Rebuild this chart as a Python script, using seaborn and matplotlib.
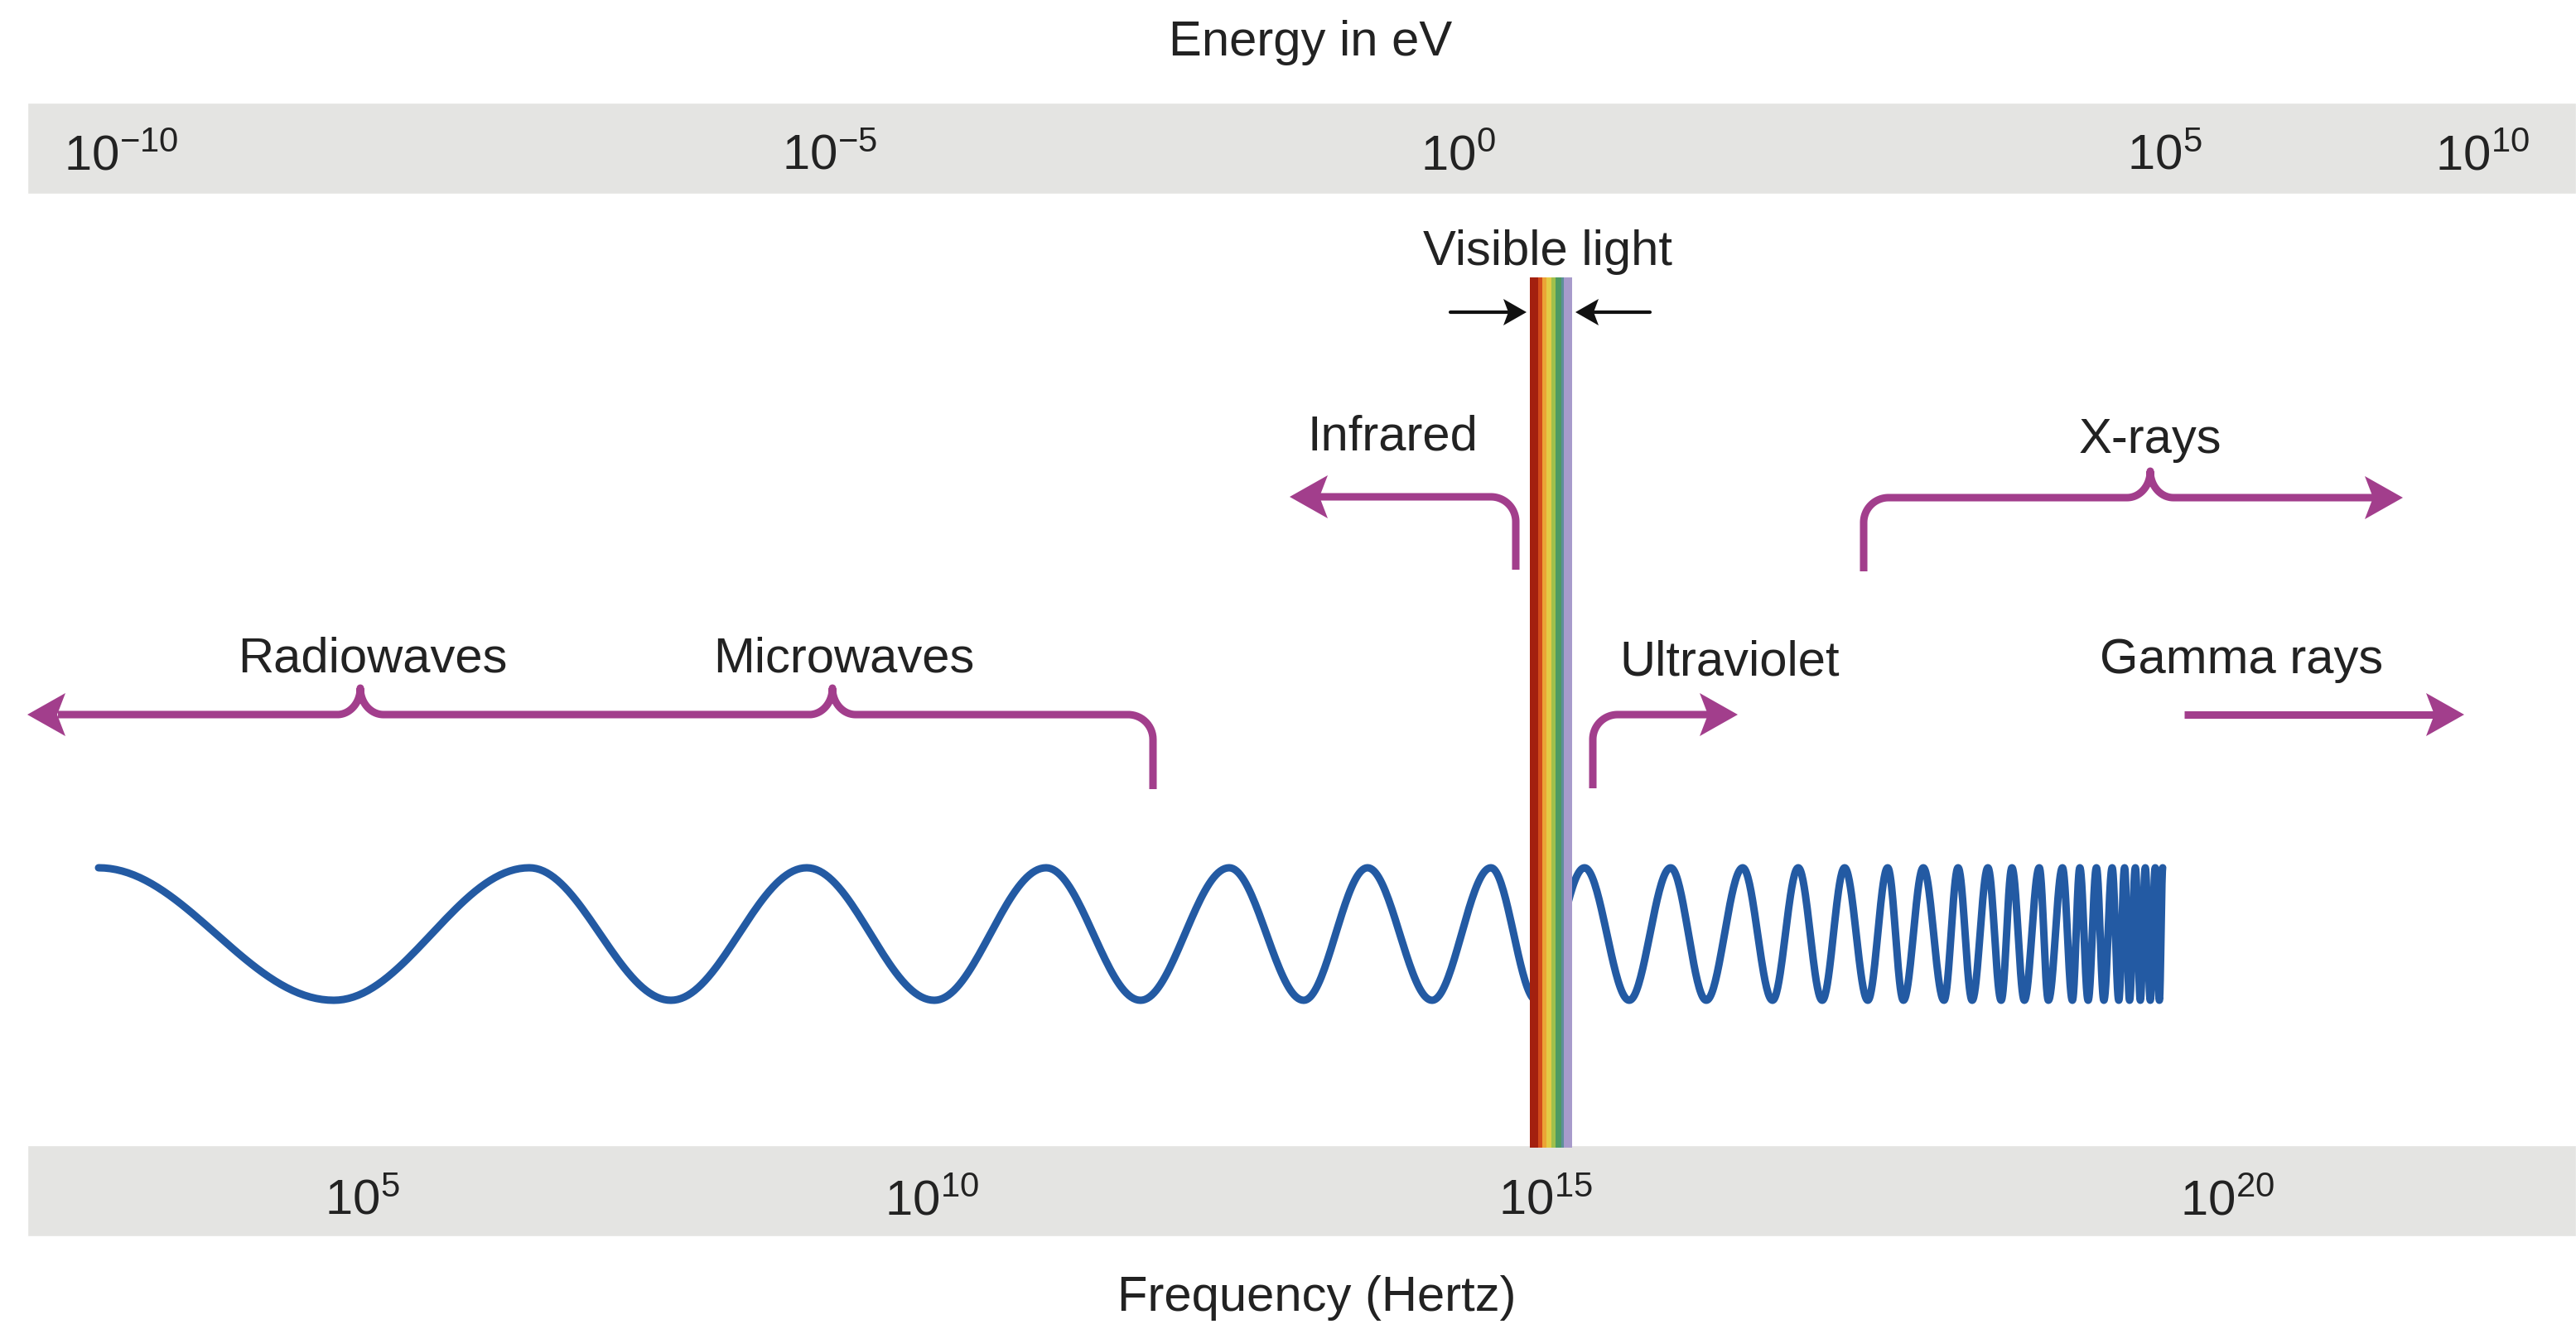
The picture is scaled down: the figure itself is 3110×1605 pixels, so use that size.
import numpy as np
import pandas as pd
import matplotlib
matplotlib.use("Agg")
import matplotlib.pyplot as plt
import seaborn as sns

# ---- values (diagram units = pixels of the 3110x1605 picture) ----
energy_ticks = ["10^{-10}", "10^{-5}", "10^{0}", "10^{5}", "10^{10}"]
energy_tick_x = [77, 944, 1715, 2568, 2940]
freq_ticks = ["10^{5}", "10^{10}", "10^{15}", "10^{20}"]
freq_tick_x = [392, 1068, 1809, 2632]

region_names = ["Visible light", "Infrared", "Radiowaves", "Microwaves",
                "Ultraviolet", "X-rays", "Gamma rays"]
region_x = [1869, 1681, 450, 1019, 2088, 2596, 2706]
region_y = [320, 543, 811, 811, 815, 547, 813]

# crest / trough positions of the wave, alternating, starting with a crest
wave_x = [119, 403, 639, 810, 974, 1128, 1263, 1377, 1484, 1574, 1651, 1729,
          1800, 1855, 1913, 1967, 2017, 2060, 2104, 2140, 2171, 2200, 2227,
          2255, 2279, 2298, 2322, 2347, 2364, 2381, 2400, 2416, 2429, 2444,
          2462, 2473, 2490, 2502, 2511, 2521, 2531, 2540, 2550, 2558, 2565,
          2571, 2578, 2584, 2590, 2596, 2602, 2607, 2611]

# visible band stripes, red -> violet
stripe_colors = ["#a3200f", "#d24a1b", "#eba436", "#e3cb45", "#9fc04c",
                 "#4e9a62", "#5d8f9a", "#a79bcb"]
stripe_widths = [10, 5, 5, 6, 5, 7, 3, 10]

PURPLE = "#a23e8c"
BLUE = "#235aa3"
GRAY = "#e4e4e2"
TEXT = "#222222"

sns.set_theme(style="white")
plt.rcParams["font.family"] = ["Liberation Sans", "DejaVu Sans"]
plt.rcParams["mathtext.fontset"] = "custom"
plt.rcParams["mathtext.rm"] = "Liberation Sans"

fig = plt.figure(figsize=(31.1, 16.05), dpi=100)
ax = fig.add_axes([0, 0, 1, 1])

# grey scale bands
ax.bar(33, 110, bottom=124, width=3110 - 33, align="edge", color=GRAY, zorder=1)
ax.bar(33, 110, bottom=1383, width=3110 - 33, align="edge", color=GRAY, zorder=1)

# wave: half-cosine between the read crests and troughs
top_y, bot_y = 1048, 1208
ext_y = [top_y if i % 2 == 0 else bot_y for i in range(len(wave_x))]
xs, ys = [], []
for i in range(len(wave_x) - 1):
    t = np.linspace(0, 1, 40, endpoint=False)
    xs.append(wave_x[i] + (wave_x[i + 1] - wave_x[i]) * t)
    ys.append(ext_y[i] + (ext_y[i + 1] - ext_y[i]) * (1 - np.cos(np.pi * t)) / 2)
xs.append([wave_x[-1]])
ys.append([ext_y[-1]])
wave = pd.DataFrame({"x": np.concatenate(xs), "y": np.concatenate(ys)})
sns.lineplot(data=wave, x="x", y="y", sort=False, estimator=None, color=BLUE,
             linewidth=6.5, ax=ax, zorder=2)

# visible light stripes
left = 1847
for c, w in zip(stripe_colors, stripe_widths):
    ax.bar(left, 1386 - 335, bottom=335, width=w, align="edge", color=c,
           linewidth=0, zorder=4)
    left += w


def arc(cx, cy, r, a0, a1, n=30):
    a = np.linspace(a0, a1, n)
    return cx + r * np.cos(a), cy + r * np.sin(a)


def brace(xc, y0, w=28, h=32, n=25):
    phi = np.linspace(np.pi / 2, 0, n)
    lx = xc - w + w * np.cos(phi)
    ly = y0 - h + h * np.sin(phi)
    phi = np.linspace(0, np.pi / 2, n)
    rx = xc + w - w * np.cos(phi)
    ry = y0 - h + h * np.sin(phi)
    return np.concatenate([lx, rx]), np.concatenate([ly, ry])


def head(ax, xt, y, direction, color, L=46, H=26, notch=10, z=5):
    d = 1 if direction == "right" else -1
    px = [xt, xt - d * L, xt - d * (L - notch), xt - d * L]
    py = [y, y - H, y, y + H]
    ax.fill(px, py, color=color, linewidth=0, zorder=z)


def draw(ax, parts, color=PURPLE, lw=6.5):
    x = np.concatenate([p[0] for p in parts])
    y = np.concatenate([p[1] for p in parts])
    ax.plot(x, y, color=color, linewidth=lw, solid_capstyle="butt",
            solid_joinstyle="round", zorder=5)


r = 30
# radiowaves + microwaves
y0 = 863
bx1, by1 = brace(435, y0)
bx2, by2 = brace(1005, y0)
cx, cy = arc(1392 - r, y0 + r, r, -np.pi / 2, 0)
draw(ax, [(np.array([70]), np.array([y0])), (bx1, by1), (bx2, by2),
          (cx, cy), (np.array([1392]), np.array([953]))])
head(ax, 33, y0, "left", PURPLE)

# infrared
y0 = 600
cx, cy = arc(1830 - r, y0 + r, r, -np.pi / 2, 0)
draw(ax, [(np.array([1590]), np.array([y0])), (cx, cy),
          (np.array([1830]), np.array([688]))])
head(ax, 1557, y0, "left", PURPLE)

# ultraviolet
y0 = 863
cx, cy = arc(1923 + r, y0 + r, r, np.pi, 1.5 * np.pi)
draw(ax, [(np.array([1923]), np.array([952])), (cx, cy),
          (np.array([2065]), np.array([y0]))])
head(ax, 2098, y0, "right", PURPLE)

# x-rays
y0 = 601
cx, cy = arc(2250 + r, y0 + r, r, np.pi, 1.5 * np.pi)
bx, by = brace(2596, y0)
draw(ax, [(np.array([2250]), np.array([690])), (cx, cy), (bx, by),
          (np.array([2868]), np.array([y0]))])
head(ax, 2901, y0, "right", PURPLE)

# gamma rays
draw(ax, [(np.array([2637, 2942]), np.array([863, 863]))])
head(ax, 2975, 863, "right", PURPLE)

# black arrows pointing at the visible band
ax.plot([1751, 1820], [377, 377], color="#111111", linewidth=3, zorder=5)
head(ax, 1843, 377, "right", "#111111", L=28, H=16, notch=6)
ax.plot([1992, 1925], [377, 377], color="#111111", linewidth=3, zorder=5)
head(ax, 1902, 377, "left", "#111111", L=28, H=16, notch=6)

# texts
FS = 43
ax.text(1582, 67, "Energy in eV", ha="center", va="baseline", fontsize=FS, color=TEXT)
ax.text(1590, 1583, "Frequency (Hertz)", ha="center", va="baseline", fontsize=FS, color=TEXT)
for name, x, y in zip(region_names, region_x, region_y):
    ax.text(x, y, name, ha="center", va="baseline", fontsize=FS, color=TEXT, zorder=6)
for lab, x in zip(energy_ticks, energy_tick_x):
    ax.text(x, 205, r"$\mathregular{" + lab + "}$", ha="left", va="baseline",
            fontsize=FS, color=TEXT, zorder=6)
for lab, x in zip(freq_ticks, freq_tick_x):
    ax.text(x, 1467, r"$\mathregular{" + lab + "}$", ha="left", va="baseline",
            fontsize=FS, color=TEXT, zorder=6)

ax.set_xlim(0, 3110)
ax.set_ylim(1605, 0)
ax.axis("off")

fig.savefig("out.png", dpi=100)
